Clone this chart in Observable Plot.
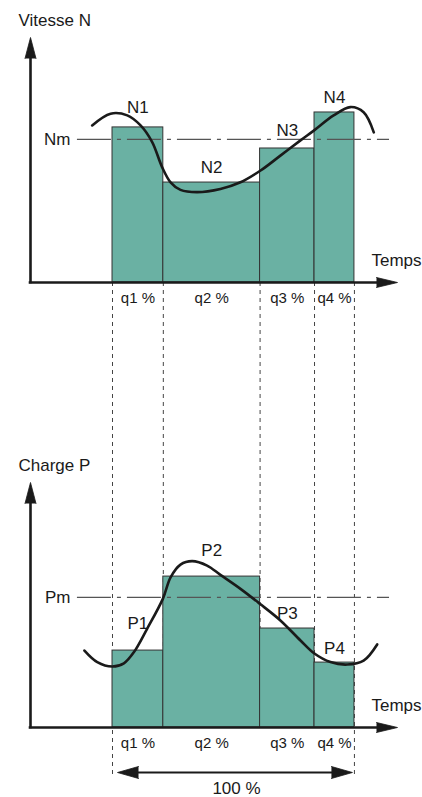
<!DOCTYPE html>
<html>
<head>
<meta charset="utf-8">
<script src="https://cdn.jsdelivr.net/npm/d3@7"></script>
<script src="https://cdn.jsdelivr.net/npm/@observablehq/plot@0.6"></script>
<style>
  html, body { margin: 0; padding: 0; background: #fff; }
  #chart svg { display: block; font-family: "Liberation Sans", Arial, sans-serif; }
</style>
</head>
<body>
<div id="chart"></div>
<script>
// ---------- data ----------
const panels = ["Vitesse N", "Charge P"];
const categories = ["q1 %", "q2 %", "q3 %", "q4 %"];
const shares = [21, 40, 22.5, 16.5];               // % of the time
const speedNames = ["N1", "N2", "N3", "N4"];
const speeds = [63.3, 40.8, 54.7, 69.4];
const loadNames = ["P1", "P2", "P3", "P4"];
const loads = [31.4, 61.6, 40.4, 26.5];
const meanNames = ["Nm", "Pm"];
const means = [58.4, 53.1];
const speedCurveT = [-8.4, -0.8, 6.1, 11.6, 16.4, 20.5, 24.0, 28.1, 35.0, 44.6, 52.9, 61.2, 69.4, 77.7, 83.2, 91.4, 98.3, 103.8, 108.0];
const speedCurveV = [64.1, 68.9, 68.2, 64.1, 57.3, 47.1, 40.9, 37.8, 36.9, 38.2, 40.9, 45.7, 51.8, 58.0, 62.0, 68.2, 71.6, 69.5, 61.3];
const loadCurveT = [-11.6, -6.3, -0.1, 4.7, 8.8, 14.3, 20.8, 24.0, 28.1, 32.9, 39.1, 44.6, 52.9, 60.9, 69.4, 77.7, 83.3, 90.1, 97.0, 103.8, 109.4];
const loadCurveV = [31.4, 26.7, 24.9, 26.2, 30.7, 40.3, 52.5, 61.3, 66.5, 67.9, 66.1, 62.3, 56.6, 50.5, 43.7, 35.5, 30.3, 26.7, 25.7, 27.3, 33.9];
const axisLabel = "Temps";
const totalLabel = "100 %";

// ---------- layout (not data) ----------
const W = 422, topPx = 37, facetPx = 245, gapPx = 200, bottomPx = 70;
const H = topPx + 2 * facetPx + gapPx + bottomPx;
const tMin = -33.9, tMax = 117.8;   // time-axis extent (origin .. arrow tip)
const yMax = 100;
const pxPerUnit = facetPx / yMax;
const refStart = -14.5, refEnd = 114.5;
const innerDashEnd = -(gapPx + facetPx) / pxPerUnit;
const outerDashEnd = -(gapPx + facetPx + 50) / pxPerUnit;
const labelLiftPx = [[20, 15, 18, 15], [27, 26, 15, 14]];
const ink = "#1a1a1a";
const big = 17, small = 15;

// ---------- tables ----------
const edges = [0, ...d3.cumsum(shares)];
const values = [speeds, loads];
const names = [speedNames, loadNames];
const bars = panels.flatMap((p, i) => categories.map((c, j) => ({
  panel: p, t1: edges[j], t2: edges[j + 1], v: values[i][j], name: names[i][j],
  ly: values[i][j] + labelLiftPx[i][j] / pxPerUnit
})));
const cats = categories.map((c, j) => ({ cat: c, t: (edges[j] + edges[j + 1]) / 2 }));
const meanRows = panels.map((p, i) => ({ panel: p, v: means[i], name: meanNames[i] }));
const curves = [
  ...speedCurveT.map((t, k) => ({ panel: panels[0], t, v: speedCurveV[k] })),
  ...loadCurveT.map((t, k) => ({ panel: panels[1], t, v: loadCurveV[k] }))
];
const dividers = edges.map((t, k) => ({
  panel: panels[0], t, end: (k === 0 || k === edges.length - 1) ? outerDashEnd : innerDashEnd
}));
const totalRow = [{ panel: panels[1], label: totalLabel }];
const one = [0];

const chart = Plot.plot({
  width: W,
  height: H,
  marginTop: topPx,
  marginBottom: bottomPx,
  marginLeft: 30,
  marginRight: 25,
  x: { domain: [tMin, tMax], axis: null },
  y: { domain: [0, yMax], axis: null },
  fy: { domain: panels, paddingInner: gapPx / (gapPx + facetPx), paddingOuter: 0, round: false, axis: null },
  style: { fontFamily: '"Liberation Sans", Arial, sans-serif', color: ink, background: "#fff" },
  marks: [
    // dashed dividers running from the upper time axis down past the lower one
    Plot.ruleX(dividers, { x: "t", y1: () => 0, y2: "end", fy: "panel", stroke: "#444", strokeWidth: 1, strokeDasharray: "4,4" }),
    // bars
    Plot.rect(bars, { x1: "t1", x2: "t2", y1: () => 0, y2: "v", fy: "panel", fill: "#6ab1a3", stroke: "#333", strokeWidth: 1 }),
    // mean reference lines
    Plot.ruleY(meanRows, { y: "v", x1: () => refStart, x2: () => refEnd, fy: "panel", stroke: "#555", strokeWidth: 1.2, strokeDasharray: "34,6,4,6" }),
    // curves
    Plot.line(curves, { x: "t", y: "v", z: "panel", fy: "panel", curve: "catmull-rom", stroke: ink, strokeWidth: 2.6 }),
    // axes lines
    Plot.ruleX(one, { x: () => tMin, y1: () => 0, y2: () => yMax - 4, stroke: ink, strokeWidth: 2.6, strokeLinecap: "square" }),
    Plot.ruleY(one, { y: () => 0, x1: () => tMin, x2: () => tMax - 4, stroke: ink, strokeWidth: 2.6, strokeLinecap: "square" }),
    // arrow heads
    Plot.vector(one, { x: () => tMin, y: () => yMax, anchor: "end", rotate: 0, length: 21, shape: "spike", r: 5.5, fill: ink, fillOpacity: 1, stroke: ink, strokeWidth: 0.8 }),
    Plot.vector(one, { x: () => tMax, y: () => 0, anchor: "end", rotate: 90, length: 21, shape: "spike", r: 5, fill: ink, fillOpacity: 1, stroke: ink, strokeWidth: 0.8 }),
    // panel titles
    Plot.text(panels, { x: () => tMin, y: () => yMax, fy: d => d, text: d => d, textAnchor: "start", dx: -12, dy: -17, fontSize: big }),
    // "Temps"
    Plot.text([axisLabel], { x: () => tMax, y: () => 0, text: d => d, textAnchor: "end", dx: 24, dy: -22, fontSize: big }),
    // category labels
    Plot.text(cats, { x: "t", y: () => 0, text: "cat", dy: 16, fontSize: small }),
    // value labels
    Plot.text(bars, { x: d => (d.t1 + d.t2) / 2, y: "ly", fy: "panel", text: "name", fontSize: big }),
    // mean labels
    Plot.text(meanRows, { x: () => refStart, y: "v", fy: "panel", text: "name", textAnchor: "end", dx: -7, fontSize: big }),
    // 100 % double arrow
    Plot.ruleY(totalRow, { y: () => 0, x1: () => 0, x2: () => 100, fy: "panel", dy: 45, insetLeft: 12, insetRight: 12, stroke: ink, strokeWidth: 2 }),
    Plot.vector(totalRow, { x: () => 0, y: () => 0, fy: "panel", anchor: "end", rotate: -90, length: 21, shape: "spike", r: 6, dx: 5, dy: 45, fill: ink, fillOpacity: 1, stroke: ink, strokeWidth: 0.8 }),
    Plot.vector(totalRow, { x: () => 100, y: () => 0, fy: "panel", anchor: "end", rotate: 90, length: 21, shape: "spike", r: 6, dx: -2, dy: 45, fill: ink, fillOpacity: 1, stroke: ink, strokeWidth: 0.8 }),
    Plot.text(totalRow, { x: () => 50, y: () => 0, fy: "panel", text: "label", dy: 61, dx: 3, fontSize: big })
  ]
});
document.getElementById("chart").appendChild(chart);
</script>
</body>
</html>
